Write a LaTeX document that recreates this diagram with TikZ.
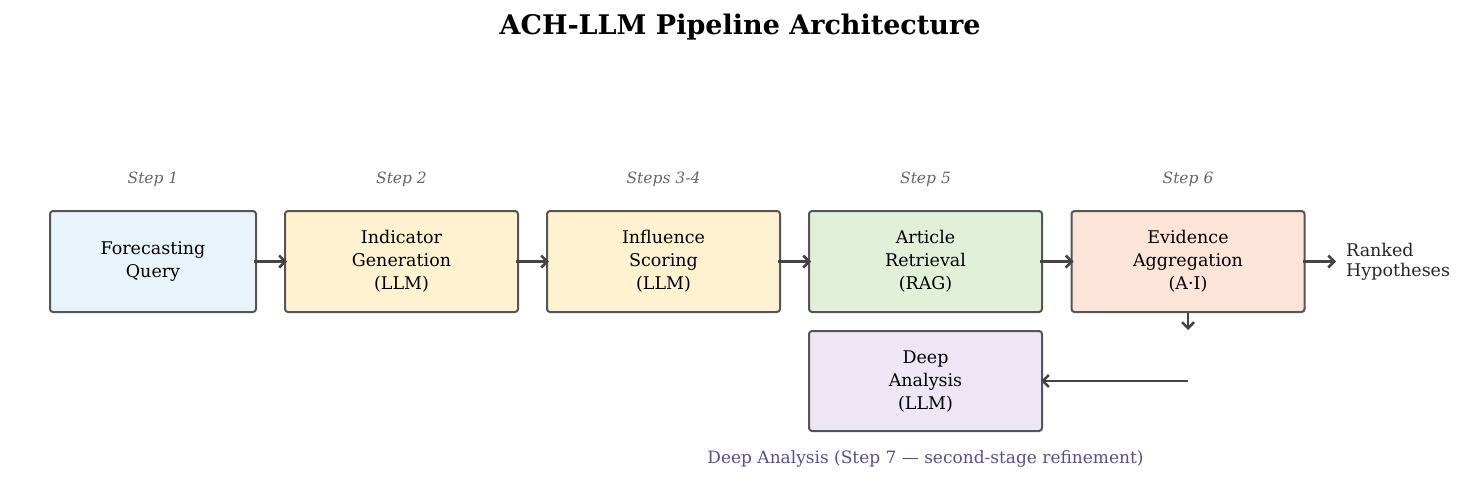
\documentclass[tikz,border=0pt]{standalone}
\usepackage{fontspec}
\setmainfont{DejaVu Serif}
\usetikzlibrary{arrows.meta}
\definecolor{bd}{HTML}{555555}
\definecolor{arc}{HTML}{444444}
\definecolor{cA}{HTML}{E8F4FA}
\definecolor{cB}{HTML}{FFF2D0}
\definecolor{cC}{HTML}{E2EFD9}
\definecolor{cD}{HTML}{FDE4D8}
\definecolor{cE}{HTML}{EDE6F5}
\definecolor{pur}{HTML}{5A4AA0}
\begin{document}
\begin{tikzpicture}[x=1pt,y=-1pt,
  box/.style={draw=bd,line width=2pt,rounded corners=3pt,minimum height=101pt,align=center,font=\fontsize{17.5}{23}\selectfont,inner sep=0pt},
  steplbl/.style={text=bd!90,font=\fontsize{15.5}{18}\selectfont\itshape},
  arr/.style={draw=arc,line width=2.5pt,-{Straight Barb[length=6pt,width=12pt]}}]
\useasboundingbox (0,0) rectangle (1472,483);
\node[font=\fontsize{27}{32}\selectfont\bfseries] (title) at (740,27) {ACH-LLM Pipeline Architecture};
\node[box,fill=cA,minimum width=206pt] (q) at (153,261.5) {Forecasting\\Query};
\node[box,fill=cB,minimum width=233pt] (ig) at (401.5,261.5) {Indicator\\Generation\\(LLM)};
\node[box,fill=cB,minimum width=233pt] (is) at (663.5,261.5) {Influence\\Scoring\\(LLM)};
\node[box,fill=cC,minimum width=233pt] (rag) at (925.5,261.5) {Article\\Retrieval\\(RAG)};
\node[box,fill=cD,minimum width=233pt] (ea) at (1188,261.5) {Evidence\\Aggregation\\(A·I)};
\node[box,fill=cE,minimum width=233pt,minimum height=100pt] (da) at (925.5,381) {Deep\\Analysis\\(LLM)};
\node[steplbl] (s1) at (153,179) {Step 1};
\node[steplbl] (s2) at (401.5,179) {Step 2};
\node[steplbl] (s3) at (663.5,179) {Steps 3-4};
\node[steplbl] (s5) at (925.5,179) {Step 5};
\node[steplbl] (s6) at (1188,179) {Step 6};
\node[anchor=west,align=left,text=black!85,font=\fontsize{17.5}{20}\selectfont,inner sep=0pt] (rh) at (1346,261.5) {Ranked\\Hypotheses};
\node[text=pur,font=\fontsize{17}{20}\selectfont] (cap) at (925.5,459) {Deep Analysis (Step 7 — second-stage refinement)};
\coordinate (c1) at (1188,330);
\coordinate (c2) at (1188,381);
\draw[arr] ([xshift=-3pt]q.east) -- ([xshift=3pt]ig.west);
\draw[arr] ([xshift=-3pt]ig.east) -- ([xshift=3pt]is.west);
\draw[arr] ([xshift=-3pt]is.east) -- ([xshift=3pt]rag.west);
\draw[arr] ([xshift=-3pt]rag.east) -- ([xshift=3pt]ea.west);
\draw[arr] ([xshift=-3pt]ea.east) -- ([xshift=-10pt]rh.west);
\draw[arr] (ea.south) -- (c1);
\draw[arr] (c2) -- ([xshift=-2pt]da.east);
\end{tikzpicture}
\end{document}
